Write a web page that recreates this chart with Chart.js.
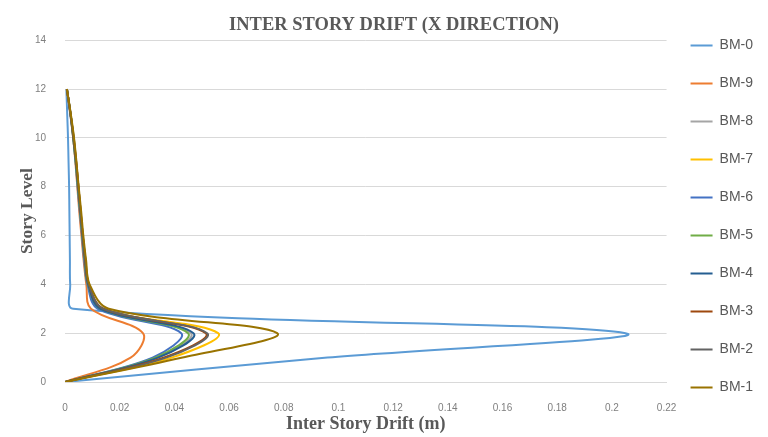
<!DOCTYPE html>
<html>
<head>
<meta charset="utf-8">
<script src="https://cdn.jsdelivr.net/npm/chart.js@4.4.1/dist/chart.umd.min.js"></script>
<style>
  html, body { margin: 0; padding: 0; background: #fff; }
  #wrap { width: 768px; height: 437px; position: relative; }
</style>
</head>
<body>
<div id="wrap"><canvas id="drift-chart"></canvas></div>
<script>
// ---------- Data ----------
const storyLevels = [0, 1, 2, 3, 4, 5, 6, 7, 8, 9, 10, 11, 12];

const bm0 = [0, 0.096, 0.205, 0.003, 0.0019, 0.0018, 0.0017, 0.0016, 0.0015, 0.0013, 0.0011, 0.0008, 0.0005];
const bm9 = [0, 0.024, 0.0285, 0.0095, 0.0078, 0.0068, 0.006, 0.0052, 0.0045, 0.0038, 0.003, 0.0019, 0.0006];
const bm8 = [0, 0.034, 0.046, 0.013, 0.0084, 0.0072, 0.0063, 0.0055, 0.0047, 0.0039, 0.003, 0.002, 0.0007];
const bm7 = [0, 0.039, 0.056, 0.014, 0.0088, 0.0075, 0.0065, 0.0057, 0.0049, 0.0041, 0.0032, 0.002, 0.0007];
const bm6 = [0, 0.032, 0.0425, 0.012, 0.0082, 0.007, 0.0062, 0.0054, 0.0046, 0.0039, 0.003, 0.0019, 0.0007];
const bm5 = [0, 0.033, 0.045, 0.013, 0.0084, 0.0072, 0.0063, 0.0055, 0.0047, 0.0039, 0.003, 0.002, 0.0007];
const bm4 = [0, 0.034, 0.047, 0.013, 0.0085, 0.0073, 0.0064, 0.0056, 0.0048, 0.004, 0.0031, 0.002, 0.0007];
const bm3 = [0, 0.036, 0.0515, 0.014, 0.0087, 0.0074, 0.0065, 0.0057, 0.0049, 0.0041, 0.0031, 0.002, 0.0007];
const bm2 = [0, 0.037, 0.052, 0.014, 0.0087, 0.0075, 0.0065, 0.0057, 0.0049, 0.0041, 0.0032, 0.002, 0.0007];
const bm1 = [0, 0.043, 0.0776, 0.016, 0.009, 0.0077, 0.0067, 0.0059, 0.005, 0.0042, 0.0033, 0.0021, 0.0007];

const seriesNames = ['BM-0', 'BM-9', 'BM-8', 'BM-7', 'BM-6', 'BM-5', 'BM-4', 'BM-3', 'BM-2', 'BM-1'];
const seriesValues = [bm0, bm9, bm8, bm7, bm6, bm5, bm4, bm3, bm2, bm1];
const seriesColors = ['#5B9BD5', '#ED7D31', '#A5A5A5', '#FFC000', '#4472C4',
                      '#70AD47', '#255E91', '#9E480E', '#636363', '#997300'];

// ---------- Chart ----------
const serif = 'Liberation Serif, DejaVu Serif, serif';
const sans = 'Liberation Sans, Arial, sans-serif';
const textGray = '#595959';

const datasets = seriesNames.map((name, i) => ({
    label: name,
    data: storyLevels.map((lv, k) => ({ x: seriesValues[i][k], y: lv })),
    borderColor: seriesColors[i],
    backgroundColor: seriesColors[i],
    borderWidth: 2,
    pointRadius: 0,
    pointHoverRadius: 0,
    showLine: true,
    tension: 0.35,
    order: seriesNames.length - 1 - i, // BM-1 drawn last (on top), like Excel
}));

new Chart(document.getElementById('drift-chart').getContext('2d'), {
    type: 'scatter',
    data: { datasets },
    options: {
        responsive: true,
        maintainAspectRatio: false,
        animation: false,
        layout: { padding: { left: 25, right: 5, top: 0, bottom: 4 } },
        scales: {
            x: {
                type: 'linear',
                min: 0,
                max: 0.22,
                grid: { display: false, drawTicks: false },
                border: { display: true, color: '#d9d9d9' },
                ticks: {
                    stepSize: 0.02,
                    autoSkip: false,
                    maxRotation: 0,
                    padding: 20,
                    color: '#7f7f7f',
                    font: { family: sans, size: 10 },
                    callback: (v) => String(parseFloat(Number(v).toFixed(4))),
                },
                title: {
                    display: true,
                    text: 'Inter Story Drift (m)',
                    color: textGray,
                    font: { family: serif, size: 18, weight: 'bold' },
                    padding: { top: -20.6, bottom: -2 },
                },
            },
            y: {
                type: 'linear',
                min: 0,
                max: 14,
                grid: { color: '#d9d9d9', drawTicks: false },
                border: { display: false },
                ticks: {
                    stepSize: 2,
                    padding: 19,
                    color: '#7f7f7f',
                    font: { family: sans, size: 10 },
                },
                title: {
                    display: true,
                    text: 'Story Level',
                    color: textGray,
                    font: { family: serif, size: 17.5, weight: 'bold' },
                    padding: { top: -8.5, bottom: 0 },
                },
                afterFit: (scale) => { scale.width = 40; },
            },
        },
        plugins: {
            title: {
                display: true,
                text: 'INTER STORY DRIFT (X DIRECTION)',
                color: textGray,
                font: { family: serif, size: 18.5, weight: 'bold' },
                padding: { top: 14, bottom: 4 },
            },
            legend: {
                position: 'right',
                weight: 3000,
                reverse: true,
                labels: {
                    usePointStyle: true,
                    pointStyle: 'line',
                    pointStyleWidth: 22,
                    padding: 24,
                    color: textGray,
                    font: { family: sans, size: 14 },
                },
            },
            tooltip: { enabled: false },
        },
    },
});
</script>
</body>
</html>
